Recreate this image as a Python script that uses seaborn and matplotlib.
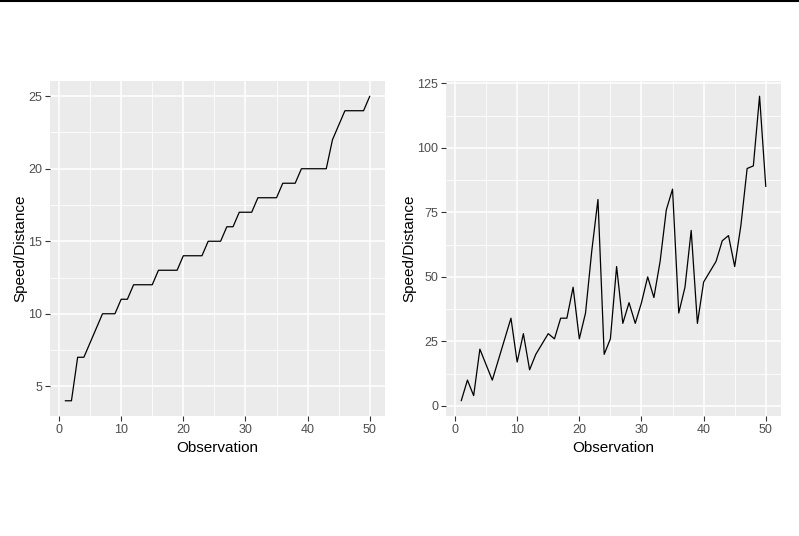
import numpy as np
import pandas as pd
import seaborn as sns
import matplotlib.pyplot as plt
from matplotlib.lines import Line2D

# cars data (speed / stopping distance)
speed = [4, 4, 7, 7, 8, 9, 10, 10, 10, 11, 11, 12, 12, 12, 12, 13, 13, 13, 13, 14,
         14, 14, 14, 15, 15, 15, 16, 16, 17, 17, 17, 18, 18, 18, 18, 19, 19, 19, 20, 20,
         20, 20, 20, 22, 23, 24, 24, 24, 24, 25]
dist = [2, 10, 4, 22, 16, 10, 18, 26, 34, 17, 28, 14, 20, 24, 28, 26, 34, 34, 46, 26,
        36, 60, 80, 20, 26, 54, 32, 40, 32, 40, 50, 42, 56, 76, 84, 36, 46, 68, 32, 48,
        52, 56, 64, 66, 54, 70, 92, 93, 120, 85]
obs = list(range(1, len(speed) + 1))

x_ticks = [0, 10, 20, 30, 40, 50]
speed_ticks = [5, 10, 15, 20, 25]
dist_ticks = [0, 25, 50, 75, 100, 125]

df = pd.DataFrame({"obs": obs, "speed": speed, "dist": dist})

sns.set_style("darkgrid", {"axes.facecolor": "#EBEBEB", "grid.color": "white"})
plt.rcParams['font.family'] = ['Liberation Sans', 'DejaVu Sans']

fig = plt.figure(figsize=(7.99, 5.36), dpi=100)
W, H = 799, 536
ax1 = fig.add_axes([50 / W, 1 - 416 / H, 335 / W, 335 / H])
ax2 = fig.add_axes([446 / W, 1 - 416 / H, 335 / W, 335 / H])


def expand(lo, hi):
    pad = (hi - lo) * 0.05
    return lo - pad, hi + pad


for ax, col, ticks in [(ax1, "speed", speed_ticks), (ax2, "dist", dist_ticks)]:
    sns.lineplot(data=df, x="obs", y=col, ax=ax, color="black", linewidth=0.9)
    ax.set_xlim(*expand(min(obs), max(obs)))
    ax.set_ylim(*expand(min(df[col]), max(df[col])))
    ax.set_xticks(x_ticks)
    ax.set_yticks(ticks)
    ax.set_xticks([t + 5 for t in x_ticks[:-1]], minor=True)
    ax.set_yticks([t + (ticks[1] - ticks[0]) / 2 for t in ticks[:-1]], minor=True)
    ax.grid(which="major", color="white", linewidth=1.1)
    ax.grid(which="minor", color="white", linewidth=0.55)
    ax.tick_params(which="major", length=3.5, width=0.8, color="#333333",
                   labelcolor="#4D4D4D", labelsize=9, pad=2, bottom=True, left=True)
    ax.tick_params(which="minor", length=0)
    for s in ax.spines.values():
        s.set_visible(False)
    ax.set_xlabel("Observation", fontsize=11, color="black", labelpad=4)
    ax.set_ylabel("Speed/Distance", fontsize=11, color="black", labelpad=1)

fig.add_artist(Line2D([0, 1], [1 - 0.5 / H, 1 - 0.5 / H], color="black", linewidth=1.5,
                      transform=fig.transFigure))

fig.savefig("out.png", dpi=100)
